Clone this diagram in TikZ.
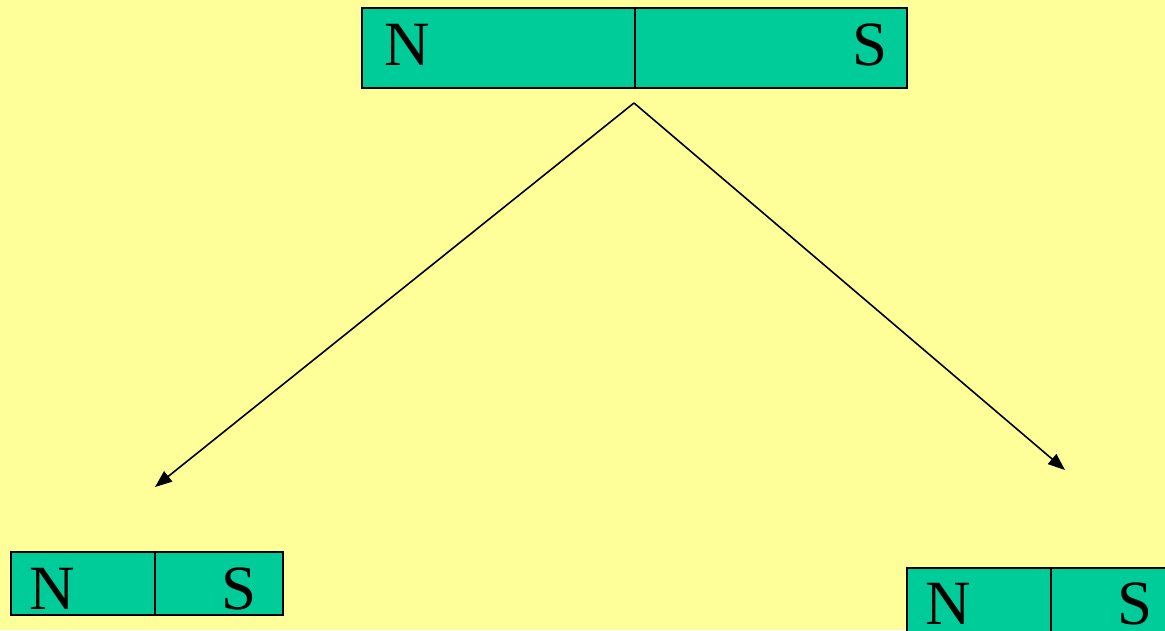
\documentclass[tikz,border=0pt]{standalone}
\usepackage{fontspec}
\setmainfont{Liberation Serif}
\usetikzlibrary{arrows.meta}
\definecolor{bgyellow}{HTML}{FFFF99}
\definecolor{magnetgreen}{HTML}{00CC99}
\tikzset{
  half/.style={draw=black, fill=magnetgreen, line width=2pt, rectangle, inner sep=0pt, anchor=north west},
  pole/.style={font=\fontsize{63}{63}\selectfont, inner sep=0pt, anchor=base west},
  split/.style={line width=1.6pt, -{Triangle[length=17pt,width=13pt]}}
}
\begin{document}
\begin{tikzpicture}[x=1pt,y=-1pt]
  \useasboundingbox (0,0) rectangle (1165,630);
  \clip (0,0) rectangle (1165,630);
  \fill[bgyellow] (0,0) rectangle (1165,630);

  % whole magnet
  \node[half, minimum width=273pt, minimum height=80pt] (topN) at (361,7) {};
  \node[half, minimum width=272pt, minimum height=80pt] (topS) at (634,7) {};
  \node[pole] (topNl) at (384,65) {N};
  \node[pole] (topSl) at (852,65) {S};

  % left piece
  \node[half, minimum width=144pt, minimum height=63pt] (leftN) at (10,551) {};
  \node[half, minimum width=128pt, minimum height=63pt] (leftS) at (154,551) {};
  \node[pole] (leftNl) at (29,609) {N};
  \node[pole] (leftSl) at (221,609) {S};

  % right piece
  \node[half, minimum width=144pt, minimum height=70pt] (rightN) at (906,567) {};
  \node[half, minimum width=128pt, minimum height=70pt] (rightS) at (1050,567) {};
  \node[pole] (rightNl) at (925,624) {N};
  \node[pole] (rightSl) at (1117,624) {S};

  % breaking into two
  \coordinate (apex) at (634,103);
  \coordinate (leftend) at (155,487);
  \coordinate (rightend) at (1065,470);
  \draw[split] (apex) -- (leftend);
  \draw[split] (apex) -- (rightend);
\end{tikzpicture}
\end{document}
